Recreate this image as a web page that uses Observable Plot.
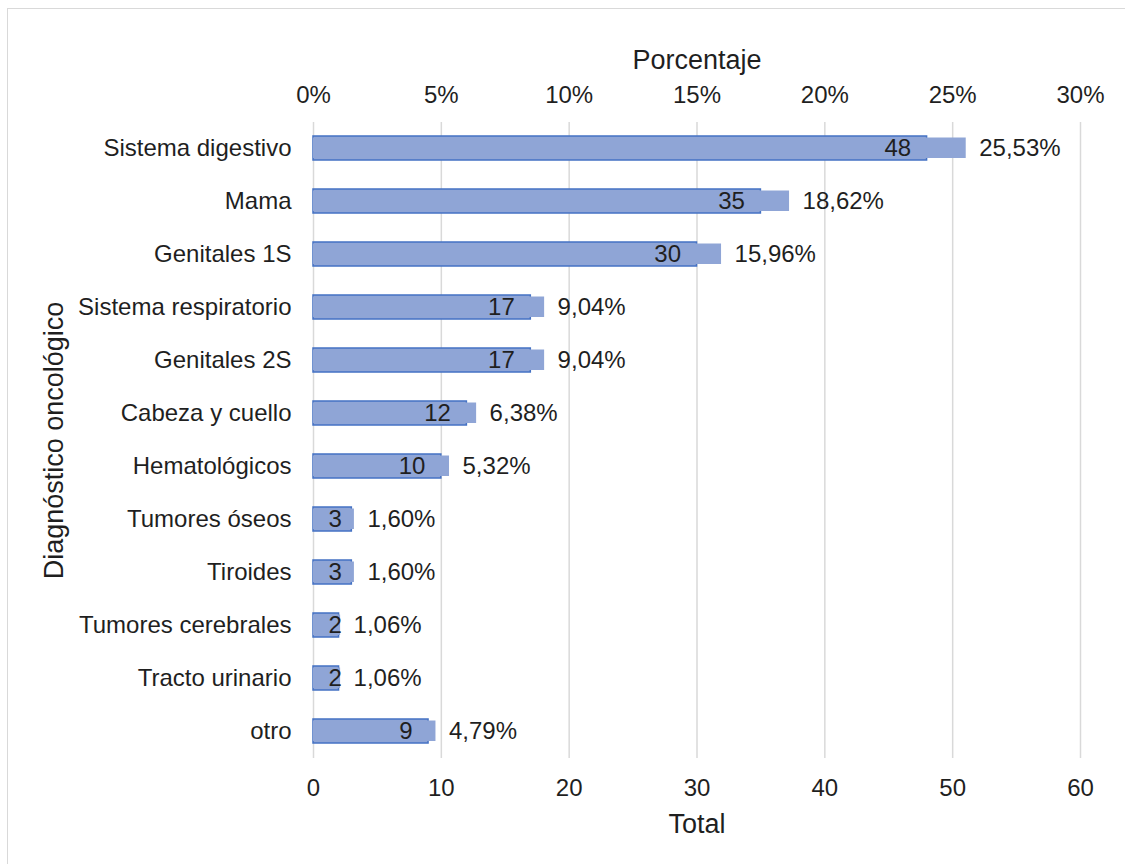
<!DOCTYPE html>
<html>
<head>
<meta charset="utf-8">
<script src="https://cdn.jsdelivr.net/npm/d3@7"></script>
<script src="https://cdn.jsdelivr.net/npm/@observablehq/plot@0.6"></script>
<style>
  html, body { margin: 0; padding: 0; background: #fff; overflow: hidden; }
  #wrap { position: relative; width: 1125px; height: 864px; }
  #border { position: absolute; left: 7px; top: 8px; width: 1130px; height: 870px;
            border: 1.5px solid #d9d9d9; box-sizing: border-box; pointer-events: none; }
  #chart { position: absolute; left: 0; top: 0; }
  #chart g[aria-label="x-axis label"] text, #chart g[aria-label="y-axis label"] text { font-size: 27px; }
</style>
</head>
<body>
<div id="wrap"><div id="chart"></div><div id="border"></div></div>
<script>
const categories = ["Sistema digestivo","Mama","Genitales 1S","Sistema respiratorio","Genitales 2S","Cabeza y cuello","Hematológicos","Tumores óseos","Tiroides","Tumores cerebrales","Tracto urinario","otro"];
const totals = [48,35,30,17,17,12,10,3,3,2,2,9];
const percents = [25.53,18.62,15.96,9.04,9.04,6.38,5.32,1.60,1.60,1.06,1.06,4.79];
const totalTicks = [0,10,20,30,40,50,60];
const percentTicks = [0,5,10,15,20,25,30];

const factor = totalTicks[totalTicks.length-1] / percentTicks[percentTicks.length-1];
const data = categories.map((c,i) => ({cat: c, total: totals[i], pct: percents[i]}));
const fmtPct = p => p.toFixed(2).replace(".", ",") + "%";
const big = data.filter(d => d.total >= 5);
const small = data.filter(d => d.total < 5);

const fill = "#8FA5D6";
const edge = "#4472C4";
const ink = "#1f1f1f";

const chart = Plot.plot({
  width: 1125,
  height: 864,
  marginLeft: 313,
  marginRight: 45,
  marginTop: 122,
  marginBottom: 106,
  style: {fontFamily: "'Liberation Sans', Arial, sans-serif", fontSize: "24px", color: ink, background: "transparent"},
  x: {domain: [0, totalTicks[totalTicks.length-1]]},
  y: {domain: categories, paddingInner: 0.547, paddingOuter: 0.2735},
  marks: [
    Plot.gridX(totalTicks, {stroke: "#d9d9d9", strokeOpacity: 1, strokeWidth: 1.5}),
    Plot.axisX({anchor: "top", ticks: percentTicks.map(p => p*factor), tickFormat: d => (d/factor) + "%",
      tickSize: 0, tickPadding: 20, label: "Porcentaje", labelAnchor: "center", labelArrow: "none", labelOffset: 73}),
    Plot.axisX({anchor: "bottom", ticks: totalTicks, tickFormat: d => d,
      tickSize: 0, tickPadding: 20, label: "Total", labelAnchor: "center", labelArrow: "none", labelOffset: 74}),
    Plot.axisY({tickSize: 0, tickPadding: 22, label: "Diagnóstico oncológico", labelAnchor: "center", labelArrow: "none", labelOffset: 270}),
    Plot.barX(data, {y: "cat", x: "total", fill: fill, stroke: edge, strokeWidth: 1.5}),
    Plot.barX(data, {y: "cat", x: d => d.pct*factor, fill: fill, insetTop: 1.5, insetBottom: 2}),
    Plot.text(big, {y: "cat", x: "total", text: d => String(d.total), textAnchor: "end", dx: -16, fill: ink, fontSize: 24}),
    Plot.text(small, {y: "cat", x: 0, text: d => String(d.total), textAnchor: "start", dx: 15, fill: ink, fontSize: 24}),
    Plot.text(data, {y: "cat", x: d => d.pct*factor, text: d => fmtPct(d.pct), textAnchor: "start", dx: 13, fill: ink, fontSize: 24})
  ]
});
document.getElementById("chart").appendChild(chart);
</script>
</body>
</html>
